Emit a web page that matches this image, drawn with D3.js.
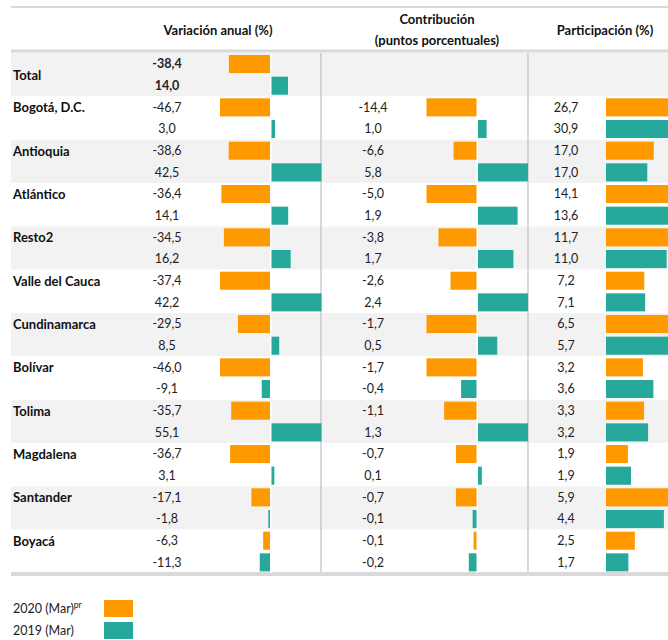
<!DOCTYPE html>
<html><head><meta charset="utf-8">
<script src="https://cdn.jsdelivr.net/npm/d3@7"></script>
<style>
body{margin:0;background:#fff;}
svg{display:block;font-family:Lato,"Open Sans",sans-serif;}
</style></head>
<body><svg id="c" width="668" height="640"></svg>
<script>
const regions = ["Total","Bogotá, D.C.","Antioquia","Atlántico","Resto2","Valle del Cauca","Cundinamarca","Bolívar","Tolima","Magdalena","Santander","Boyacá"];
const var2020 = [-38.4,-46.7,-38.6,-36.4,-34.5,-37.4,-29.5,-46.0,-35.7,-36.7,-17.1,-6.3];
const var2019 = [14.0,3.0,42.5,14.1,16.2,42.2,8.5,-9.1,55.1,3.1,-1.8,-11.3];
const con2020 = [null,-14.4,-6.6,-5.0,-3.8,-2.6,-1.7,-1.7,-1.1,-0.7,-0.7,-0.1];
const con2019 = [null,1.0,5.8,1.9,1.7,2.4,0.5,-0.4,1.3,0.1,-0.1,-0.2];
const par2020 = [null,26.7,17.0,14.1,11.7,7.2,6.5,3.2,3.3,1.9,5.9,2.5];
const par2019 = [null,30.9,17.0,13.6,11.0,7.1,5.7,3.6,3.2,1.9,4.4,1.7];
const groups = [0,0,0,1,1,1,2,2,2,2,2,2];
const seriesNames = ["2020 (Mar)","2019 (Mar)"];
const headers = [["Variación anual (%)"],["Contribución","(puntos porcentuales)"],["Participación (%)"]];

const ORANGE = "#FF9900", TEAL = "#26A99A";
const colors = [ORANGE, TEAL];
const fmt = v => d3.format(".1f")(v).replace("\u2212", "-").replace(".", ",");

const svg = d3.select("#c");
const L = 11, R = 668;
const y = d3.scaleBand().domain(regions).range([53, 573]);
const sub = y.step() / 2;

// row backgrounds
svg.selectAll("rect.bg").data(regions).join("rect")
  .attr("x", L).attr("width", R - L)
  .attr("y", d => y(d)).attr("height", y.step())
  .attr("fill", (d, i) => i % 2 === 0 ? "#f2f2f2" : "#ffffff");

// lines
svg.append("rect").attr("x", L).attr("y", 6).attr("width", R - L).attr("height", 2).attr("fill", "#d9d9d9");
svg.append("rect").attr("x", L).attr("y", 49.5).attr("width", R - L).attr("height", 3).attr("fill", "#d9d9d9");
svg.append("rect").attr("x", L).attr("y", 572).attr("width", R - L).attr("height", 4).attr("fill", "#d9d9d9");
[321, 528].forEach(xv => svg.append("line").attr("x1", xv).attr("x2", xv).attr("y1", 53).attr("y2", 572)
  .attr("stroke", "#bfbfbf").attr("stroke-width", 1.2));

// headers
const hx = [218, 437, 605];
headers.forEach((lines, k) => {
  const t = svg.append("text").attr("x", hx[k]).attr("text-anchor", "middle")
    .attr("font-weight", "bold").attr("font-size", 13).attr("fill", "#111");
  const y0 = lines.length === 1 ? 35 : 24;
  lines.forEach((s, j) => t.append("tspan").attr("x", hx[k]).attr("y", y0 + j * 21).text(s));
});

// row labels
svg.selectAll("text.lab").data(regions).join("text")
  .attr("x", 13)
  .attr("y", (d, i) => i === 0 ? y(d) + y.step() / 2 + 5 : y(d) + sub / 2 + 5)
  .attr("font-weight", "bold").attr("font-size", 13).attr("fill", "#111")
  .text(d => d);

// columns definition
const cols = [
  {vals: [var2020, var2019], textX: 167, zero: 270, half: 50, diverge: true},
  {vals: [con2020, con2019], textX: 373, zero: 476.5, half: 50, diverge: true},
  {vals: [par2020, par2019], textX: 566, zero: 606, half: 75, diverge: false}
];

cols.forEach(col => {
  if (col.diverge) {
    regions.forEach((r, i) => {
      if (col.vals[0][i] == null) return;
      svg.append("rect").attr("x", col.zero).attr("width", 1.5)
        .attr("y", y(r)).attr("height", y.step()).attr("fill", "#fff");
    });
  }
  col.vals.forEach((arr, s) => {
    const scales = {};
    d3.groups(arr.map((v, i) => ({v, g: groups[i]})).filter(d => d.v != null), d => d.g)
      .forEach(([g, items]) => {
        scales[g] = d3.scaleLinear().domain([0, d3.max(items, d => Math.abs(d.v))]).range([0, col.half]);
      });
    regions.forEach((r, i) => {
      const v = arr[i];
      if (v == null) return;
      const top = y(r) + s * sub;
      const w = scales[groups[i]](Math.abs(v));
      const x0 = (v < 0) ? col.zero - w : (col.diverge ? col.zero + 1.5 : col.zero);
      svg.append("rect").attr("x", x0).attr("y", top + 2).attr("width", w)
        .attr("height", sub - 3.6).attr("fill", colors[s]);
      svg.append("text").attr("x", col.textX).attr("y", top + sub / 2 + 4.5)
        .attr("text-anchor", "middle").attr("font-size", 12.5)
        .attr("font-weight", i === 0 ? "bold" : "normal")
        .attr("fill", "#222").text(fmt(v));
    });
  });
});

// legend
seriesNames.forEach((n, s) => {
  const ly = 600 + s * 22;
  const t = svg.append("text").attr("x", 13).attr("y", ly + 13).attr("font-size", 12.5).attr("fill", "#222");
  t.append("tspan").text(n);
  if (s === 0) t.append("tspan").attr("dy", -5).attr("font-size", 8.5).text("pr");
  svg.append("rect").attr("x", 104).attr("y", ly).attr("width", 29).attr("height", 17).attr("fill", colors[s]);
});
</script></body></html>
